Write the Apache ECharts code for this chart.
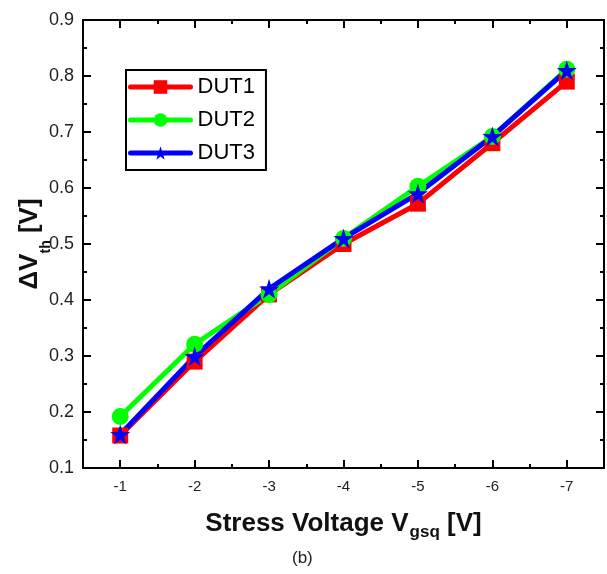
<!DOCTYPE html>
<html>
<head>
<meta charset="utf-8">
<script src="https://cdn.jsdelivr.net/npm/echarts@6/dist/echarts.min.js"></script>
<style>html,body{margin:0;padding:0;background:#fff}#c{width:607px;height:574px}</style>
</head>
<body>
<div id="c"></div>
<script>
const categories = ['-1', '-2', '-3', '-4', '-5', '-6', '-7'];
const dut1 = [0.158, 0.29, 0.41, 0.50, 0.572, 0.68, 0.79];
const dut2 = [0.192, 0.321, 0.41, 0.51, 0.603, 0.692, 0.812];
const dut3 = [0.16, 0.299, 0.42, 0.51, 0.59, 0.692, 0.81];
const yTicks = { min: 0.1, max: 0.9, interval: 0.1 };

const FONT = '"Liberation Sans", Arial, sans-serif';
const chart = echarts.init(document.getElementById('c'), null, { renderer: 'canvas' });

const lineStyleAxis = { color: '#000', width: 2 };
function catAxis(pos, major, showLine) {
  return {
    type: 'category', data: categories, position: pos, boundaryGap: true,
    axisLine: { show: showLine, onZero: false, lineStyle: lineStyleAxis },
    axisTick: { show: true, inside: true, alignWithLabel: major, length: major ? 8 : 4, lineStyle: lineStyleAxis },
    axisLabel: { show: false },
    splitLine: { show: false }
  };
}
const xNameRich = {
  b: { fontFamily: FONT, fontSize: 26, fontWeight: 'bold', color: '#111', lineHeight: 28, verticalAlign: 'top' },
  s: { fontFamily: FONT, fontSize: 17, fontWeight: 'bold', color: '#111', lineHeight: 17, padding: [13, 0, 0, 1], verticalAlign: 'top' }
};
const yNameRich = {
  b: { fontFamily: FONT, fontSize: 26, fontWeight: 'bold', color: '#111', lineHeight: 28, verticalAlign: 'top' },
  s: { fontFamily: FONT, fontSize: 14, fontWeight: 'bold', color: '#111', lineHeight: 14, padding: [22, 0, 0, 0], verticalAlign: 'top' }
};
const xMain = catAxis('bottom', true, true);
xMain.axisLabel = { show: true, fontFamily: FONT, fontSize: 15, color: '#222', margin: 11 };
xMain.name = '{b|Stress Voltage V}{s|gsq}{b| [V]}';
xMain.nameLocation = 'middle';
xMain.nameGap = 43;
xMain.nameMoveOverlap = false;
xMain.nameTextStyle = { rich: xNameRich };

function valAxis(pos, labels) {
  return {
    type: 'value', position: pos, min: yTicks.min, max: yTicks.max, interval: yTicks.interval,
    axisLine: { show: true, onZero: false, lineStyle: lineStyleAxis },
    axisTick: { show: true, inside: true, length: 8, lineStyle: lineStyleAxis },
    minorTick: { show: true, splitNumber: 2, length: 4, lineStyle: lineStyleAxis },
    axisLabel: labels ? { show: true, fontFamily: FONT, fontSize: 18, color: '#222', margin: 9,
      formatter: v => v.toFixed(1) } : { show: false },
    splitLine: { show: false }, minorSplitLine: { show: false }
  };
}
const yMain = valAxis('left', true);
yMain.name = '{b|ΔV}{s|th}{b| [V]}';
yMain.nameLocation = 'middle';
yMain.nameGap = 38;
yMain.nameMoveOverlap = false;
yMain.nameRotate = 90;
yMain.nameTextStyle = { rich: yNameRich };

function mkSeries(name, data, color, symbol, size) {
  return {
    name, type: 'line', data, xAxisIndex: 0, yAxisIndex: 0,
    symbol, symbolSize: size, showSymbol: true,
    itemStyle: { color },
    lineStyle: { color, width: 5 },
    emphasis: { disabled: true }, animation: false
  };
}
const STAR = 'path://M50,0 L61.8,36.2 L100,36.2 L69.1,58.8 L80.9,95.1 L50,72.7 L19.1,95.1 L30.9,58.8 L0,36.2 L38.2,36.2 Z';

chart.setOption({
  animation: false,
  backgroundColor: '#fff',
  grid: { left: 83, right: 3, top: 20, bottom: 106, containLabel: false },
  legend: {
    orient: 'vertical', left: 126, top: 70,
    itemWidth: 60, itemHeight: 17, itemGap: 11,
    borderColor: '#000', borderWidth: 2, padding: [6, 11, 6, 2],
    lineStyle: { width: 5, cap: 'round' },
    textStyle: { fontFamily: FONT, fontSize: 22, color: '#000', padding: [0, 0, 0, 2] },
    data: ['DUT1', 'DUT2', 'DUT3']
  },
  xAxis: [xMain, catAxis('bottom', false, false), catAxis('top', true, true), catAxis('top', false, false)],
  yAxis: [yMain, valAxis('right', false)],
  series: [
    mkSeries('DUT1', dut1, '#ff0000', 'rect', 16),
    mkSeries('DUT2', dut2, '#00ff00', 'circle', 17),
    mkSeries('DUT3', dut3, '#0000ff', STAR, 20)
  ],
  graphic: [{
    type: 'text', left: 292, top: 550,
    style: { text: '(b)', fontFamily: FONT, fontSize: 17, fill: '#222' }
  }]
});
</script>
</body>
</html>
